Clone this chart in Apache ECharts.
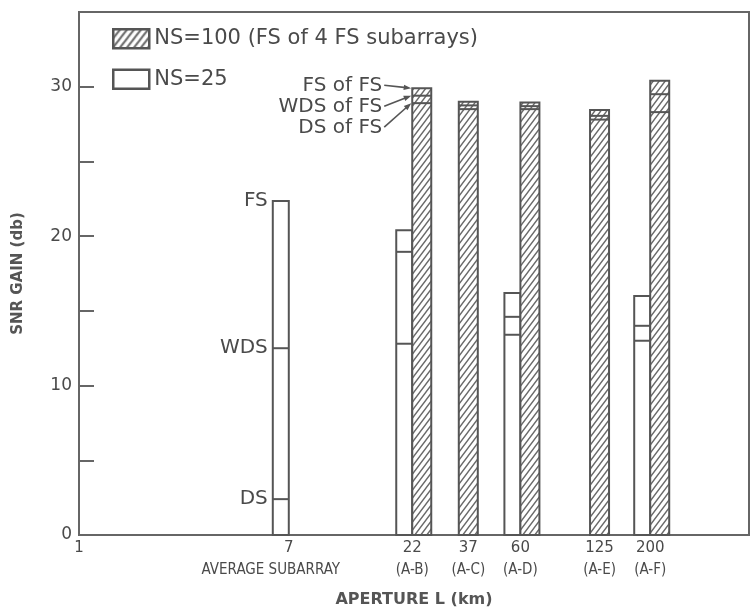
<!DOCTYPE html>
<html>
<head>
<meta charset="utf-8">
<script src="https://cdn.jsdelivr.net/npm/echarts@6/dist/echarts.min.js"></script>
<style>
  html, body { margin: 0; padding: 0; background: #ffffff; }
  #chart { width: 753px; height: 613px; }
</style>
</head>
<body>
<div id="chart"></div>
<script>
// Aperture tick positions (km) and their labels
const tickValues = [1, 7, 22, 37, 60, 125, 200];
const tickLabels = ['1', '7', '22', '37', '60', '125', '200'];
const tickSubLabels = ['', 'AVERAGE SUBARRAY', '(A-B)', '(A-C)', '(A-D)', '(A-E)', '(A-F)'];

// NS=25 bars: DS / WDS / FS gain levels (db)
const ns25Aperture = [7, 22, 60, 200];
const ns25DS  = [2.4, 12.8, 13.4, 13.0];
const ns25WDS = [12.5, 18.95, 14.6, 14.0];
const ns25FS  = [22.35, 20.4, 16.2, 16.0];

// NS=100 bars (FS of 4 FS subarrays): DS / WDS / FS of FS levels (db)
const ns100Aperture = [22, 37, 60, 125, 200];
const ns100DS  = [28.9, 28.5, 28.5, 27.8, 28.3];
const ns100WDS = [29.4, 28.75, 28.7, 28.05, 29.5];
const ns100FS  = [29.9, 29.0, 28.95, 28.45, 30.4];

// Level names written beside the subarray bar and the first NS=100 bar
const subarrayLevelNames = ['DS', 'WDS', 'FS'];
const fsOfFsLevelNames = ['DS of FS', 'WDS of FS', 'FS of FS'];

const seriesNames = ['NS=100 (FS of 4 FS subarrays)', 'NS=25'];

const INK = '#4a4a4a';
const LINE = '#555555';
const FONT = 'DejaVu Sans';
const NARROW = '"DejaVu Sans Condensed", "Liberation Sans Narrow", "DejaVu Sans"';

function makeHatch(w, h, lw) {
  const c = document.createElement('canvas');
  c.width = w; c.height = h;
  const g = c.getContext('2d');
  g.fillStyle = '#ffffff';
  g.fillRect(0, 0, w, h);
  g.strokeStyle = '#6a6a6a';
  g.lineWidth = lw;
  g.beginPath();
  g.moveTo(-w, 2 * h); g.lineTo(2 * w, -h);
  g.moveTo(-2 * w, 2 * h); g.lineTo(w, -h);
  g.moveTo(0, 2 * h); g.lineTo(3 * w, -h);
  g.stroke();
  return c;
}
const hatchFill = { image: makeHatch(6, 8, 1.4), repeat: 'repeat' };
const legendHatch = { image: makeHatch(7, 9, 2), repeat: 'repeat' };

const HOLLOW_W = 16;
const HATCH_W = 19;

function arrow(x1, y1, x2, y2) {
  const ang = Math.atan2(y2 - y1, x2 - x1);
  const L = 8, A = 0.35;
  const p1 = [x2 - L * Math.cos(ang - A), y2 - L * Math.sin(ang - A)];
  const p2 = [x2 - L * Math.cos(ang + A), y2 - L * Math.sin(ang + A)];
  return [
    { type: 'line', shape: { x1: x1, y1: y1, x2: x2 - 5 * Math.cos(ang), y2: y2 - 5 * Math.sin(ang) },
      style: { stroke: LINE, lineWidth: 1.6 } },
    { type: 'polygon', shape: { points: [[x2, y2], p1, p2] }, style: { fill: LINE } }
  ];
}

function levelShapes(left, right, yLevels, topY, baseY, fill) {
  const kids = [{
    type: 'rect',
    shape: { x: left, y: topY, width: right - left, height: baseY - topY },
    style: { fill: fill, stroke: LINE, lineWidth: 2 }
  }];
  yLevels.forEach(function (y) {
    kids.push({ type: 'line', shape: { x1: left, y1: y, x2: right, y2: y },
      style: { stroke: LINE, lineWidth: 2 } });
  });
  return kids;
}

function renderNs25(params, api) {
  const x = api.value(0);
  const base = api.coord([x, 0]);
  const yDS = api.coord([x, api.value(1)])[1];
  const yWDS = api.coord([x, api.value(2)])[1];
  const yFS = api.coord([x, api.value(3)])[1];
  const right = base[0];
  const left = right - HOLLOW_W;
  const kids = levelShapes(left, right, [yDS, yWDS], yFS, base[1], '#ffffff');
  if (params.dataIndex === 0) {
    [yDS, yWDS, yFS].forEach(function (y, i) {
      kids.push({ type: 'text', style: {
        text: subarrayLevelNames[i], x: left - 5, y: y,
        align: 'right', verticalAlign: 'middle',
        font: '20px "' + FONT + '"', fill: INK } });
    });
  }
  return { type: 'group', children: kids };
}

function renderNs100(params, api) {
  const x = api.value(0);
  const base = api.coord([x, 0]);
  const yDS = api.coord([x, api.value(1)])[1];
  const yWDS = api.coord([x, api.value(2)])[1];
  const yFS = api.coord([x, api.value(3)])[1];
  const paired = ns25Aperture.indexOf(x) >= 0;
  const left = paired ? base[0] : base[0] - HATCH_W / 2;
  const right = left + HATCH_W;
  const kids = levelShapes(left, right, [yDS, yWDS], yFS, base[1], hatchFill);
  if (params.dataIndex === 0) {
    const levels = [yDS, yWDS, yFS];
    const tx = left - 30;
    for (let i = 0; i < 3; i++) {
      const ty = yFS - 2 + 21 * (2 - i);
      kids.push({ type: 'text', style: {
        text: fsOfFsLevelNames[i], x: tx, y: ty,
        align: 'right', verticalAlign: 'middle',
        font: '20px "' + FONT + '"', fill: INK } });
      arrow(tx + 2, ty - 1, left - 1, levels[i]).forEach(function (k) { kids.push(k); });
    }
  }
  return { type: 'group', children: kids };
}

const chart = echarts.init(document.getElementById('chart'), null, { renderer: 'canvas' });

chart.setOption({
  backgroundColor: '#ffffff',
  animation: false,
  grid: {
    left: 79, right: 4, top: 12, bottom: 74,
    show: true, borderColor: '#666', borderWidth: 2, backgroundColor: 'transparent'
  },
  legend: {
    orient: 'vertical', left: 112, top: 28,
    itemWidth: 36, itemHeight: 19, itemGap: 19, padding: 0,
    icon: 'rect', selectedMode: false,
    textStyle: { fontFamily: FONT, fontSize: 21, color: INK },
    data: [
      { name: seriesNames[0], itemStyle: { color: legendHatch, borderColor: LINE, borderWidth: 2.5 } },
      { name: seriesNames[1], itemStyle: { color: '#ffffff', borderColor: LINE, borderWidth: 2.5 } }
    ]
  },
  xAxis: {
    type: 'log', logBase: 10, min: 1, max: 500,
    name: 'APERTURE L (km)', nameLocation: 'middle', nameGap: 57,
    nameTextStyle: { fontFamily: FONT, fontSize: 16, fontWeight: 'bold', color: '#555' },
    axisLine: { lineStyle: { color: '#666', width: 2 } },
    axisTick: { show: false },
    splitLine: { show: false },
    minorTick: { show: false },
    axisLabel: {
      customValues: tickValues,
      margin: 2,
      formatter: function (v) {
        let i = -1;
        tickValues.forEach(function (t, k) { if (Math.abs(t - v) < 1e-6 * t) i = k; });
        if (i < 0) return '';
        if (!tickSubLabels[i]) return '{n|' + tickLabels[i] + '}';
        const style = tickSubLabels[i].length > 8 ? 'avg' : 's';
        return '{n|' + tickLabels[i] + '}\n{' + style + '|' + tickSubLabels[i] + '}';
      },
      rich: {
        n: { fontFamily: FONT, fontSize: 15, color: INK, lineHeight: 22 },
        s: { fontFamily: NARROW, fontSize: 15, color: INK, lineHeight: 22 },
        avg: { fontFamily: NARROW, fontSize: 15, color: INK, lineHeight: 22,
               padding: [0, 36, 0, 0] }
      }
    }
  },
  yAxis: {
    type: 'value', min: 0, max: 35, interval: 5,
    name: 'SNR GAIN (db)', nameLocation: 'middle', nameGap: 53, nameRotate: 90,
    nameTextStyle: { fontFamily: FONT, fontSize: 15, fontWeight: 'bold', color: '#555' },
    axisLine: { show: true, lineStyle: { color: '#666', width: 2 } },
    axisTick: { show: true, inside: true, length: 15, lineStyle: { color: '#666', width: 2 } },
    splitLine: { show: false },
    axisLabel: {
      margin: 7, fontFamily: FONT, fontSize: 17, color: INK,
      formatter: function (v) { return (v % 10 === 0 && v <= 30) ? String(v) : ''; }
    }
  },
  series: [
    {
      name: seriesNames[0], type: 'custom', renderItem: renderNs100,
      itemStyle: { color: legendHatch, borderColor: LINE, borderWidth: 2 },
      encode: { x: 0, y: 3 },
      data: ns100Aperture.map(function (a, i) { return [a, ns100DS[i], ns100WDS[i], ns100FS[i]]; }),
      z: 3
    },
    {
      name: seriesNames[1], type: 'custom', renderItem: renderNs25,
      itemStyle: { color: '#ffffff', borderColor: LINE, borderWidth: 2 },
      encode: { x: 0, y: 3 },
      data: ns25Aperture.map(function (a, i) { return [a, ns25DS[i], ns25WDS[i], ns25FS[i]]; }),
      z: 2
    }
  ]
});
</script>
</body>
</html>
